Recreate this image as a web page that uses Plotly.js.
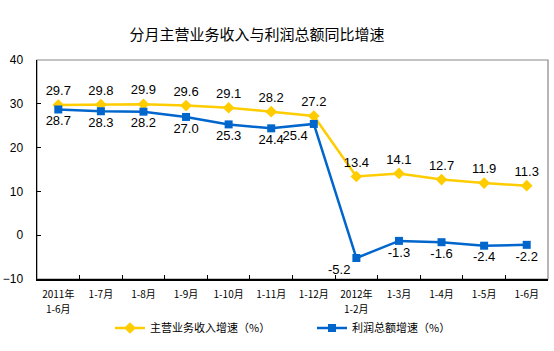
<!DOCTYPE html>
<html>
<head>
<meta charset="utf-8">
<script src="https://cdn.plot.ly/plotly-3.0.1.min.js"></script>
<style>html,body{margin:0;padding:0;background:#fff;}#chart{width:554px;height:351px;}</style>
</head>
<body>
<div id="chart"></div>
<script>
const categories = ["2011年1-6月","1-7月","1-8月","1-9月","1-10月","1-11月","1-12月","2012年1-2月","1-3月","1-4月","1-5月","1-6月"];
const tickLine1 = ["2011年","1-7月","1-8月","1-9月","1-10月","1-11月","1-12月","2012年","1-3月","1-4月","1-5月","1-6月"];
const tickLine2 = ["1-6月","","","","","","","1-2月","","","",""];
const revenueGrowth = [29.7,29.8,29.9,29.6,29.1,28.2,27.2,13.4,14.1,12.7,11.9,11.3];
const profitGrowth = [28.7,28.3,28.2,27.0,25.3,24.4,25.4,-5.2,-1.3,-1.6,-2.4,-2.2];
const revenueName = "主营业务收入增速（%）";
const profitName = "利润总额增速（%）";
const chartTitle = "分月主营业务收入与利润总额同比增速";

const profitPos = profitGrowth.map((v,i)=> (i===6||i===7) ? "bottom left" : "bottom center");
const labelFont = {family: "Liberation Sans, Arial, sans-serif", size: 13, color: "#000"};
const cjk = "Noto Sans CJK SC, sans-serif";

const traces = [
  {
    x: categories, y: revenueGrowth, name: revenueName, type: "scatter",
    mode: "lines+markers+text",
    line: {color: "#FFCC00", width: 2.5},
    marker: {symbol: "diamond", size: 9, color: "#FFCC00"},
    text: revenueGrowth.map(v=>v.toFixed(1)),
    textposition: "top center",
    textfont: labelFont,
    cliponaxis: false, legend: "legend"
  },
  {
    x: categories, y: profitGrowth, name: profitName, type: "scatter",
    mode: "lines+markers+text",
    line: {color: "#0066CC", width: 2.5},
    marker: {symbol: "square", size: 8, color: "#0066CC"},
    text: profitGrowth.map(v=>v.toFixed(1)),
    textposition: profitPos,
    textfont: labelFont,
    cliponaxis: false, legend: "legend2"
  }
];

const annotations = categories.map((c,i)=>({
  x: c, xref: "x", y: 0, yref: "paper", yshift: -29,
  text: tickLine2[i], showarrow: false, yanchor: "middle", xanchor: "center",
  font: {family: cjk, size: 10, color: "#000"}
})).filter(a=>a.text !== "");

const legendBase = {
  orientation: "h", xref: "container", xanchor: "left",
  y: 1 - 328/351, yref: "container", yanchor: "middle",
  font: {family: cjk, size: 11, color: "#000"},
  itemwidth: 30, bgcolor: "rgba(0,0,0,0)"
};

const layout = {
  width: 554, height: 351,
  margin: {l: 37, r: 6, t: 60, b: 72},
  paper_bgcolor: "#fff", plot_bgcolor: "#fff",
  title: {
    text: chartTitle,
    x: 257/554, xref: "container", xanchor: "center",
    y: 1 - 35/351, yref: "container", yanchor: "middle",
    font: {family: cjk, size: 15, color: "#000"}
  },
  showlegend: true,
  legend: Object.assign({}, legendBase, {x: 110/554}),
  legend2: Object.assign({}, legendBase, {x: 312/554}),
  xaxis: {
    type: "category",
    tickmode: "array", tickvals: categories, ticktext: tickLine1,
    showgrid: false, zeroline: false,
    showline: true, linecolor: "#000", linewidth: 1.5,
    ticks: "inside", ticklen: 4, tickcolor: "#000", tickson: "boundaries",
    ticklabelstandoff: 5,
    tickfont: {family: cjk, size: 10, color: "#000"},
    range: [-0.5, 11.5]
  },
  yaxis: {
    range: [-10, 40], dtick: 10, tick0: 0,
    showgrid: false, zeroline: false,
    showline: true, linecolor: "#000", linewidth: 1.5,
    ticks: "inside", ticklen: 4, tickcolor: "#000",
    ticklabelstandoff: 10,
    tickfont: {family: "Liberation Sans, Arial, sans-serif", size: 12, color: "#000"}
  },
  annotations: annotations,
  shapes: [{
    type: "rect", xref: "paper", yref: "paper", x0: 0, x1: 1, y0: 0, y1: 1,
    line: {color: "#888", width: 1.2}, layer: "below"
  }]
};

Plotly.newPlot("chart", traces, layout, {displayModeBar: false, staticPlot: true});
</script>
</body>
</html>
